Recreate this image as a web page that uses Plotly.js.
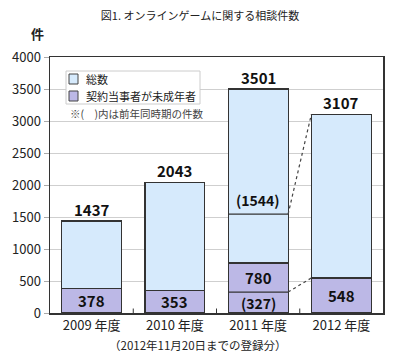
<!DOCTYPE html>
<html><head><meta charset="utf-8">
<script src="https://cdn.plot.ly/plotly-3.0.1.min.js"></script>
<style>body{margin:0;background:#fff}#c{width:400px;height:359px}</style>
</head><body><div id="c"></div>
<script>
const categories = ["2009 年度","2010 年度","2011 年度","2012 年度"];
const totals = [1437, 2043, 3501, 3107];
const minors = [378, 353, 780, 548];
const prevTotal2011 = 1544;
const prevMinor2011 = 327;
const prevIndex = 2;
const seriesNames = ["総数", "契約当事者が未成年者"];
const seriesColors = ["#d6eafc", "#bcb8e6"];

const FONT = '"Noto Sans CJK JP", "Noto Sans", sans-serif';
const rest = totals.map((t,i)=>t-minors[i]);
const idx = categories.map((_,i)=>i);
const half = 0.36;

const M = {l:50, r:17, t:57, b:46}, W = 400, H = 359;
const PW = W - M.l - M.r, PH = H - M.t - M.b;
const px = x => (x - M.l) / PW;
const py = y => 1 - (y - M.t) / PH;

const traces = [
  {type:'bar', x:idx, y:minors, name:seriesNames[1],
   marker:{color:seriesColors[1], line:{color:'#333', width:1.2}}, width:0.72, hoverinfo:'none', showlegend:false},
  {type:'bar', x:idx, y:rest, name:seriesNames[0],
   marker:{color:seriesColors[0], line:{color:'#333', width:1.2}}, width:0.72, hoverinfo:'none', showlegend:false}
];

const ann = [];
totals.forEach((t,i)=>ann.push({x:i, y:t, text:'<b>'+t+'</b>', showarrow:false, yanchor:'bottom', yshift:-1, font:{size:15, color:'#111', family:FONT}}));
minors.forEach((m,i)=>{
  let lo = (i===prevIndex)? prevMinor2011 : 0;
  ann.push({x:i, y:(lo+m)/2, text:'<b>'+m+'</b>', showarrow:false, font:{size:15, color:'#111', family:FONT}});
});
ann.push({x:prevIndex, y:prevMinor2011/2, text:'<b>('+prevMinor2011+')</b>', showarrow:false, font:{size:14, color:'#111', family:FONT}});
ann.push({x:prevIndex, y:prevTotal2011, text:'<b>('+prevTotal2011+')</b>', showarrow:false, yanchor:'bottom', yshift:2, font:{size:14, color:'#111', family:FONT}});
ann.push({xref:'paper', yref:'paper', x:px(68), y:py(113), xanchor:'left', yanchor:'middle', text:'※(　)内は前年同時期の件数', showarrow:false, font:{size:10.5, color:'#444', family:FONT}});
ann.push({xref:'paper', yref:'paper', x:px(46), y:py(33), xanchor:'right', yanchor:'middle', text:'<b>件</b>', showarrow:false, font:{size:13, color:'#222', family:FONT}});
ann.push({xref:'paper', yref:'paper', x:px(198), y:py(345), xanchor:'center', yanchor:'middle', text:'（2012年11月20日までの登録分）', showarrow:false, font:{size:11.5, color:'#222', family:FONT}});
// custom legend texts
const legY = [79, 96];
seriesNames.forEach((n,i)=>ann.push({xref:'paper', yref:'paper', x:px(84), y:py(legY[i]), xanchor:'left', yanchor:'middle', text:n, showarrow:false, font:{size:11, color:'#222', family:FONT}}));

const shapes = [
  {type:'line', x0:prevIndex-half, x1:prevIndex+half, y0:prevTotal2011, y1:prevTotal2011, line:{color:'#333', width:1.2}},
  {type:'line', x0:prevIndex-half, x1:prevIndex+half, y0:prevMinor2011, y1:prevMinor2011, line:{color:'#333', width:1.2}},
  {type:'line', x0:prevIndex+half, x1:prevIndex+1-half, y0:prevTotal2011, y1:totals[prevIndex+1], line:{color:'#444', width:1.2, dash:'dot'}},
  {type:'line', x0:prevIndex+half, x1:prevIndex+1-half, y0:prevMinor2011, y1:minors[prevIndex+1], line:{color:'#444', width:1.2, dash:'dot'}},
  {type:'rect', xref:'paper', yref:'paper', x0:px(66), x1:px(200), y0:py(71), y1:py(104), fillcolor:'#fff', line:{color:'#ccc', width:1}, layer:'above'}
];
seriesColors.forEach((c,i)=>shapes.push({type:'rect', xref:'paper', yref:'paper', x0:px(69), x1:px(78), y0:py(legY[i]-5), y1:py(legY[i]+5), fillcolor:c, line:{color:'#444', width:1}, layer:'above'}));
[0.5,1.5,2.5].forEach(b=>shapes.push({type:'line', x0:b, x1:b, y0:0, y1:70, line:{color:'#333', width:1}}));

const layout = {
  width:W, height:H,
  margin:M,
  paper_bgcolor:'#fff', plot_bgcolor:'#fff',
  barmode:'stack', bargap:0.28,
  showlegend:false,
  title:{text:'図1. オンラインゲームに関する相談件数', x:0.5, xanchor:'center', y:0.965, font:{size:11, color:'#222', family:FONT}},
  font:{family:FONT, color:'#222'},
  xaxis:{type:'linear', range:[-0.5,3.5], tickvals:idx, ticktext:categories, showgrid:false, zeroline:false,
    showline:true, linecolor:'#333', linewidth:1.5, mirror:true, ticks:'', tickfont:{size:13, color:'#222', family:FONT}, fixedrange:true},
  yaxis:{range:[0,4000], dtick:500, showgrid:true, gridcolor:'#cfcfcf', gridwidth:1, zeroline:false,
    showline:true, linecolor:'#333', linewidth:1.5, mirror:true, ticks:'outside', ticklen:5, tickcolor:'#aaa',
    tickfont:{size:13, color:'#222', family:FONT}, fixedrange:true},
  annotations:ann,
  shapes:shapes
};
Plotly.newPlot('c', traces, layout, {displayModeBar:false, staticPlot:true});
</script></body></html>
